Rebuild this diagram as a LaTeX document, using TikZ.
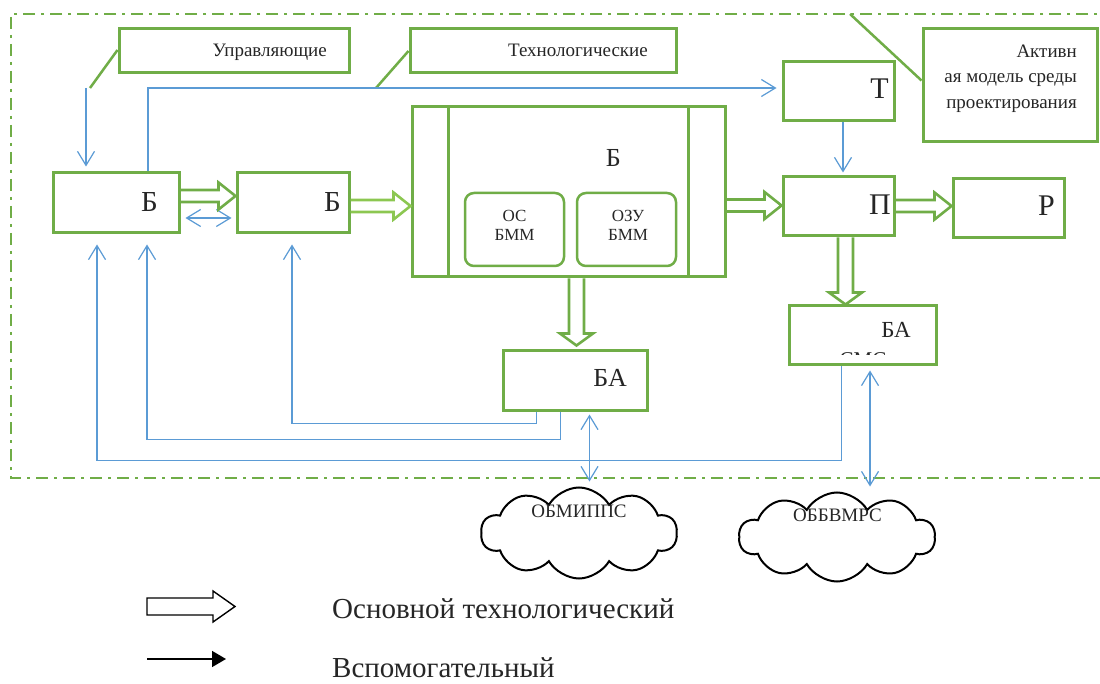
\documentclass[tikz,border=0pt]{standalone}
\usepackage{fontspec}
\setmainfont{Liberation Serif}
\usetikzlibrary{arrows.meta,calc,shapes.symbols}
\definecolor{gr}{HTML}{70AD47}
\definecolor{lgr}{HTML}{8CC751}
\definecolor{bl}{HTML}{5B9BD5}
\definecolor{ink}{HTML}{262626}
\tikzset{
  box/.style={draw=gr, line width=3pt, inner sep=0pt},
  rbox/.style={box, rounded corners=9pt, line width=2.5pt},
  lbl/.style={font=\fontsize{#1}{#1}\selectfont, text=ink, inner sep=0pt},
  fat/.style={draw=gr, line width=2.6pt, line join=miter},
  conn/.style={draw=bl, line width=1.2pt, -{Straight Barb[length=14pt,width=17pt]}},
  dconn/.style={draw=bl, line width=1.2pt, {Straight Barb[length=14pt,width=17pt]}-{Straight Barb[length=14pt,width=17pt]}},
  callout/.style={draw=gr, line width=2.5pt},
  frame/.style={draw=gr, line width=2.8pt, dash pattern=on 12pt off 6pt on 3pt off 6pt},
  cloudnode/.style={cloud, draw=black, line width=2pt, cloud puffs=10, cloud puff arc=120, aspect=2.2, inner sep=0pt}
}
\newcommand{\fatH}[3][gr]{\draw[fat,draw=#1] ($(#2)+(0,-6)$) -- ($(#3)+(-17,-6)$) -- ($(#3)+(-17,-13.5)$) -- (#3) -- ($(#3)+(-17,13.5)$) -- ($(#3)+(-17,6)$) -- ($(#2)+(0,6)$);}
\newcommand{\fatV}[2]{\draw[fat] ($(#1)+(-7.5,0)$) -- ($(#2)+(-7.5,-12)$) -- ($(#2)+(-16.5,-12)$) -- (#2) -- ($(#2)+(16.5,-12)$) -- ($(#2)+(7.5,-12)$) -- ($(#1)+(7.5,0)$);}
\begin{document}
\begin{tikzpicture}[x=1pt,y=-1pt]
\useasboundingbox (0,0) rectangle (1100,684);
\clip (0,0) rectangle (1100,684);
\fill[white] (0,0) rectangle (1100,684);

% frame
\coordinate (frTR) at (1115,14);
\coordinate (frBR) at (1115,478);
\coordinate (frTL) at (11,14);
\coordinate (frBL) at (11,478);
\coordinate (frp) at (850,14);
\draw[frame] (frTR) -- (frTL) -- (frBL) -- (frBR);

% boxes
\node[box, minimum width=230pt, minimum height=44pt] (upr) at (234,51) {};
\node[box, minimum width=266pt, minimum height=44pt] (tech) at (543,51) {};
\node[box, minimum width=174pt, minimum height=113pt] (akt) at (1010,85.5) {};
\node[box, minimum width=126pt, minimum height=60pt] (b1) at (116,203) {};
\node[box, minimum width=112pt, minimum height=60pt] (b2) at (293,203) {};
\node[box, minimum width=313pt, minimum height=170pt] (bigb) at (568.5,192) {};
\draw[box] ($(bigb.north west)+(38,0)$) -- ($(bigb.south west)+(38,0)$);
\draw[box] ($(bigb.north east)+(-38,0)$) -- ($(bigb.south east)+(-38,0)$);
\node[rbox, minimum width=99pt, minimum height=73pt] (os) at (514.5,229.5) {};
\node[rbox, minimum width=99pt, minimum height=73pt] (ozu) at (626.5,229.5) {};
\node[box, minimum width=111pt, minimum height=59pt] (t) at (838.5,91.5) {};
\node[box, minimum width=111pt, minimum height=59pt] (p) at (838.5,206.5) {};
\node[box, minimum width=111pt, minimum height=59pt] (r) at (1008.5,208.5) {};
\node[box, minimum width=144pt, minimum height=59pt] (ba1) at (575,380.5) {};
\node[box, minimum width=147pt, minimum height=59pt] (ba2) at (862.5,335.5) {};
\node[cloudnode, minimum width=196pt, minimum height=91pt] (c1) at (579,533) {};
\node[cloudnode, minimum width=196pt, minimum height=89pt] (c2) at (837,537) {};

% texts
\node[lbl=19, anchor=base east] (tupr) at (327,57) {Управляющие};
\node[lbl=19, anchor=base east] (ttech) at (648,57) {Технологические};
\node[lbl=19, anchor=north east, align=right, font=\fontsize{19}{25.5}\selectfont] (takt) at (1077,44.5) {Активн\\ая модель среды\\проектирования};
\node[lbl=29, anchor=base east] (tb1) at (158,212) {Б};
\node[lbl=29, anchor=base east] (tb2) at (341,212) {Б};
\node[lbl=26, anchor=base east] (tbig) at (621,167) {Б};
\node[lbl=17, anchor=north, align=center, font=\fontsize{17}{18.5}\selectfont] (tos) at (514.5,210.5) {ОС\\БММ};
\node[lbl=17, anchor=north, align=center, font=\fontsize{17}{18.5}\selectfont] (tozu) at (628,210.5) {ОЗУ\\БММ};
\node[lbl=30, anchor=base east] (tt) at (889,99) {Т};
\node[lbl=30, anchor=base east] (tp) at (891,215) {П};
\node[lbl=30, anchor=base east] (tr) at (1055,216) {Р};
\node[lbl=26, anchor=base east] (tba1) at (627,387) {БА};
\node[lbl=23, anchor=base east] (tba2) at (911,338) {БА};
\begin{scope}
\clip (830,352.5) rectangle (900,354.8);
\node[lbl=21, anchor=north] (tsms) at (863,352.3) {СМС};
\end{scope}
\node[lbl=19, anchor=base] (tc1) at (579,517) {ОБМИППС};
\node[lbl=19, anchor=base] (tc2) at (837.5,521) {ОББВМРС};

% callouts
\coordinate (cu1) at (90,88);
\coordinate (cu2) at (86,88);
\coordinate (ct1) at (376,88);
\draw[callout] ($(upr.west)+(0,-1)$) -- (cu1);
\draw[callout] (tech.west) -- (ct1);
\draw[callout] ($(akt.west)+(0,-5)$) -- (frp);

% blue connectors
\draw[conn, shorten >=5pt] (cu2) -- (cu2 |- b1.north);
\draw[conn, shorten >=5pt] ($(b1.north)+(32,0)$) |- ($(t.west)+(0,-3.5)$);
\draw[conn, shorten >=3pt] ($(t.south)+(4.5,0)$) -- ($(p.north)+(4.5,0)$);
\draw[dconn] ($(b1.east)+(5,15)$) -- ($(b2.west)+(-4,15)$);
\draw[conn, shorten >=10pt] ($(ba1.south west)+(35,0)$) -- ++(0,12) -| ($(b2.south)+(-1,0)$);
\draw[conn, shorten >=10pt] ($(ba1.south west)+(59,0)$) -- ++(0,28) -| ($(b1.south)+(31,0)$);
\draw[conn, shorten >=10pt] ($(ba2.south west)+(54,0)$) -- ++(0,94) -| ($(b1.south)+(-19,0)$);
\coordinate (d1) at ($(ba1.south west)+(88,3)$);
\draw[dconn, shorten >=5pt] (d1) -- (d1 |- c1.north);
\coordinate (d2) at ($(ba2.south west)+(82.5,4)$);
\draw[dconn, shorten >=5pt] (d2) -- (d2 |- c2.north);

% thick arrows
\coordinate (h1s) at ($(b1.east)+(0,-7)$);
\coordinate (h1e) at (b2.west |- h1s);
\fatH{h1s}{h1e}
\coordinate (h2s) at ($(b2.east)+(0,3)$);
\coordinate (h2e) at (bigb.west |- h2s);
\fatH[lgr]{h2s}{h2e}
\coordinate (h3s) at ($(bigb.east)+(0,13.5)$);
\coordinate (h3e) at (p.west |- h3s);
\fatH{h3s}{h3e}
\coordinate (h4s) at ($(p.east)+(0,-0.5)$);
\coordinate (h4e) at (r.west |- h4s);
\fatH{h4s}{h4e}
\coordinate (v1s) at ($(bigb.south)+(8,0)$);
\coordinate (v1e) at ($(v1s |- ba1.north)+(0,-4)$);
\fatV{v1s}{v1e}
\coordinate (v2s) at ($(p.south)+(7,0)$);
\coordinate (v2e) at (v2s |- ba2.north);
\fatV{v2s}{v2e}

% legend
\coordinate (lg1a) at (147,606.5);
\coordinate (lg1b) at (235,606.5);
\draw[black, line width=1.4pt, line join=miter] ($(lg1a)+(0,-8.5)$) -- ($(lg1b)+(-22,-8.5)$) -- ($(lg1b)+(-22,-15.5)$) -- (lg1b) -- ($(lg1b)+(-22,15.5)$) -- ($(lg1b)+(-22,8.5)$) -- ($(lg1a)+(0,8.5)$) -- cycle;
\coordinate (lg2a) at (147,659);
\coordinate (lg2b) at (226,659);
\draw[black, line width=1.6pt, -{Triangle[length=14pt,width=16pt]}] (lg2a) -- (lg2b);
\node[lbl=29, anchor=base west] (tlg1) at (332,618) {Основной технологический};
\node[lbl=29, anchor=base west] (tlg2) at (332,677) {Вспомогательный};
\end{tikzpicture}
\end{document}
